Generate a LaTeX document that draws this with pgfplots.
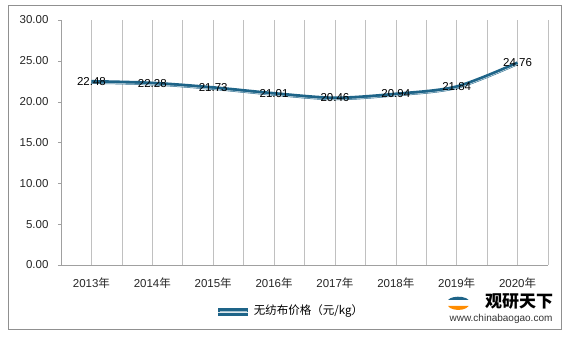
\documentclass[border=0pt]{standalone}
\usepackage{pgfplots}
\pgfplotsset{compat=1.18}
\usepackage{fontspec}
\setmainfont{Liberation Sans}
\newfontfamily\cjk{Noto Sans CJK SC}
\definecolor{lineA}{HTML}{1E6488}
\definecolor{gridc}{HTML}{C0C0C0}
\definecolor{axc}{HTML}{A0A0A0}
\begin{document}
\begin{tikzpicture}[x=1pt,y=1pt]
\useasboundingbox (0,0) rectangle (570,339);
\draw[color=axc!90!black, line width=0.8pt] (8,10) rectangle (561,334);
\begin{axis}[
  at={(61pt,74pt)}, anchor=south west,
  scale only axis, width=487pt, height=245pt,
  xmin=-0.5, xmax=7.5, ymin=0, ymax=30,
  axis x line=bottom, axis y line=left,
  axis line style={draw=axc, -},
  xtick={0,...,7},
  xticklabels={2013{\cjk 年},2014{\cjk 年},2015{\cjk 年},2016{\cjk 年},2017{\cjk 年},2018{\cjk 年},2019{\cjk 年},2020{\cjk 年}},
  minor xtick={-0.5,0.5,...,7.5},
  xmajorgrids, xminorgrids,
  grid style={draw=gridc, line width=0.6pt},
  minor grid style={draw=gridc, line width=0.6pt},
  x tick style={draw=none},
  ytick={0,5,...,30},
  y tick style={draw=axc},
  tick align=outside, major tick length=3pt,
  yticklabel={\pgfmathprintnumber[fixed,fixed zerofill,precision=2,assume math mode=true]{\tick}},
  tick label style={font=\fontsize{11.5}{13}\selectfont, text=black!85},
  xticklabel style={yshift=-6pt},
  yticklabel style={xshift=-6pt},
  clip=false,
  legend style={at={(0.47,-0.185)}, anchor=center, draw=none, fill=none, font=\fontsize{11.5}{13}\selectfont, legend cell align=left},
  legend image code/.code={
    \draw[lineA, line width=3.4pt] (0pt,0pt) -- (30pt,0pt);
    \draw[white!60!lineA, line width=0.8pt] (1.5pt,0pt) -- (28.5pt,0pt);
  },
]
\addplot[lineA, line width=3pt, smooth, tension=0.5, forget plot] coordinates {
(0,22.48) (1,22.28) (2,21.73) (3,21.01) (4,20.46) (5,20.94) (6,21.84) (7,24.76)};
\addplot[draw=lineA, double=white!85!lineA, double distance=0.5pt, line width=0.5pt, smooth, tension=0.5, yshift=-1.6pt,
  nodes near coords, point meta=explicit,
  nodes near coords style={anchor=center, yshift=1.6pt, text=black, font=\fontsize{11.5}{13}\selectfont, /pgf/number format/fixed, /pgf/number format/fixed zerofill, /pgf/number format/precision=2, /pgf/number format/assume math mode=true}]
 coordinates {
(0,22.48) [22.48] (1,22.28) [22.28] (2,21.73) [21.73] (3,21.01) [21.01] (4,20.46) [20.46] (5,20.94) [20.94] (6,21.84) [21.84] (7,24.76) [24.76]};
\addlegendentry{\cjk 无纺布价格（元/kg）}
\end{axis}
\node[anchor=center, font=\cjk\bfseries\fontsize{17}{19}\selectfont] at (519,38) {观研天下};
\node[anchor=center, font=\fontsize{10}{12}\selectfont, text=black!80] at (501,20) {www.chinabaogao.com};
\fill[orange!90!yellow] (448,33) arc (200:340:11pt and 6pt) -- cycle;
\fill[lineA] (448,39) arc (160:20:11pt and 5pt) -- cycle;
\end{tikzpicture}
\end{document}
